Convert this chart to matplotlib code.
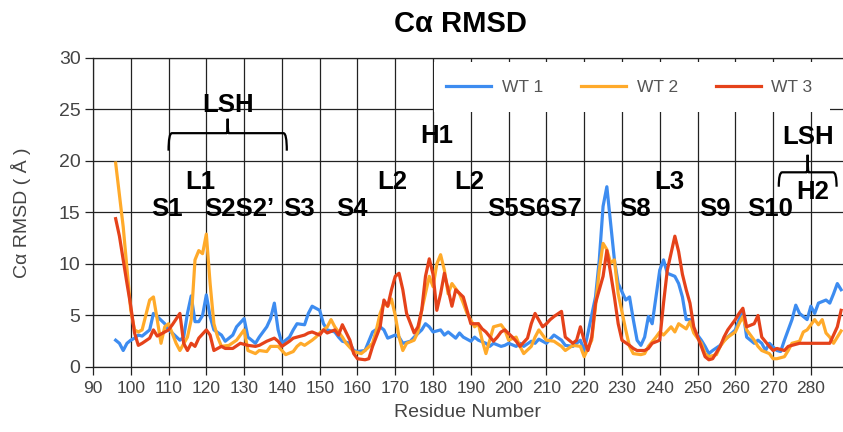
import matplotlib
matplotlib.use("Agg")
import matplotlib.pyplot as plt
from matplotlib.patches import Rectangle
from matplotlib.path import Path
from matplotlib.patches import PathPatch

plt.rcParams["font.family"] = ["Liberation Sans", "DejaVu Sans"]

# residue numbers / Ca RMSD (A)
wt1_res = [96, 97, 98, 99, 100, 101, 102, 103, 105, 106,
           107, 109, 110, 111, 113, 114, 115, 116, 117, 118,
           119, 120, 121, 122, 124, 125, 127, 128, 130, 131,
           133, 134, 136, 137, 138, 139, 140, 142, 143, 144,
           146, 147, 148, 150, 151, 152, 154, 155, 156, 158,
           159, 160, 162, 163, 164, 166, 167, 168, 170, 171,
           172, 174, 175, 177, 178, 179, 180, 182, 183, 184,
           186, 187, 188, 190, 191, 192, 194, 195, 196, 198,
           199, 200, 202, 203, 204, 206, 207, 208, 210, 212,
           214, 215, 217, 219, 220, 221, 223, 224, 225, 226,
           227, 228, 229, 231, 232, 233, 234, 235, 236, 237,
           238, 239, 240, 241, 242, 244, 245, 246, 247, 248,
           249, 251, 252, 253, 254, 256, 257, 258, 260, 261,
           262, 263, 265, 266, 267, 268, 269, 271, 272, 273,
           275, 276, 277, 279, 280, 281, 282, 284, 285, 286,
           287, 288]
wt1_rmsd = [2.6, 2.3, 1.6, 2.3, 2.6, 2.8, 3.1, 3.0, 3.6, 5.2,
            4.9, 4.2, 3.6, 3.3, 2.6, 2.9, 5.2, 6.9, 4.4, 4.4,
            5.0, 7.0, 4.9, 3.6, 3.1, 2.5, 3.1, 3.9, 4.7, 2.9,
            2.3, 2.9, 3.9, 4.7, 6.2, 3.6, 2.3, 2.9, 3.6, 4.2,
            4.1, 5.2, 5.9, 5.5, 4.2, 3.6, 3.4, 2.9, 2.5, 2.3,
            1.6, 1.5, 1.6, 2.5, 3.4, 3.9, 3.6, 2.8, 3.1, 2.9,
            2.3, 2.5, 2.9, 3.6, 4.2, 3.9, 3.4, 3.6, 3.1, 3.4,
            2.8, 3.3, 2.9, 2.5, 2.9, 2.6, 2.3, 2.0, 2.3, 2.0,
            2.1, 2.3, 2.0, 2.3, 2.0, 2.5, 2.3, 2.7, 2.3, 3.1,
            2.6, 2.1, 2.0, 2.6, 1.6, 3.3, 6.8, 10.4, 15.6, 17.5,
            14.0, 10.4, 8.1, 6.5, 6.8, 4.6, 2.6, 2.1, 2.9, 4.9,
            4.2, 6.8, 9.4, 10.4, 9.1, 8.8, 8.1, 6.8, 4.6, 4.6,
            3.6, 2.6, 2.0, 1.3, 1.6, 2.1, 2.6, 2.9, 3.6, 4.6,
            5.5, 2.9, 2.3, 2.6, 2.3, 1.6, 2.3, 1.6, 1.5, 2.6,
            4.6, 6.0, 5.2, 4.6, 5.9, 5.2, 6.2, 6.5, 6.2, 7.1,
            8.1, 7.5]

wt2_res = [96, 98, 100, 101, 102, 103, 105, 106, 107, 108,
           109, 110, 112, 113, 115, 116, 117, 118, 119, 120,
           121, 122, 123, 124, 126, 128, 130, 131, 133, 134,
           136, 137, 139, 140, 141, 143, 144, 145, 146, 148,
           149, 150, 152, 153, 154, 156, 157, 159, 161, 162,
           164, 165, 166, 167, 168, 169, 170, 171, 172, 173,
           175, 176, 177, 179, 180, 181, 182, 183, 184, 185,
           187, 188, 189, 191, 192, 193, 194, 195, 196, 198,
           199, 200, 202, 203, 204, 206, 207, 208, 210, 212,
           214, 215, 217, 219, 220, 222, 223, 224, 225, 226,
           227, 228, 229, 231, 232, 233, 235, 236, 237, 239,
           240, 241, 243, 244, 245, 247, 248, 249, 251, 252,
           253, 255, 256, 257, 258, 260, 261, 262, 263, 265,
           266, 267, 269, 270, 271, 273, 274, 275, 277, 278,
           279, 281, 282, 283, 284, 285, 286, 288]
wt2_rmsd = [19.8, 13.6, 5.5, 3.6, 3.4, 3.6, 6.5, 6.8, 4.6, 2.3,
            3.9, 4.2, 2.3, 1.6, 2.9, 4.6, 10.4, 11.3, 11.0, 12.9,
            8.1, 4.2, 2.9, 2.0, 2.1, 2.6, 3.6, 1.6, 1.3, 1.6,
            1.5, 2.0, 2.0, 1.6, 1.2, 1.5, 2.0, 2.3, 2.1, 2.6,
            2.9, 3.3, 3.9, 4.6, 3.9, 2.9, 2.3, 1.5, 1.3, 1.6,
            2.3, 3.6, 5.2, 6.2, 5.9, 6.6, 5.0, 2.9, 1.6, 2.3,
            2.6, 3.4, 5.5, 8.8, 7.8, 10.0, 10.9, 9.4, 7.1, 8.1,
            7.1, 6.2, 5.2, 3.9, 4.2, 2.6, 1.3, 2.6, 3.9, 4.1,
            3.6, 2.6, 2.9, 2.0, 1.3, 2.0, 2.9, 3.6, 2.6, 2.5,
            2.0, 1.6, 2.1, 2.0, 1.0, 2.6, 5.9, 9.4, 12.0, 11.4,
            10.1, 10.4, 7.1, 3.6, 2.0, 1.3, 1.2, 1.3, 2.0, 2.9,
            3.4, 3.1, 3.9, 3.4, 4.2, 3.7, 4.4, 3.3, 2.3, 1.3,
            1.0, 1.2, 2.0, 2.5, 2.9, 3.4, 4.2, 4.9, 3.6, 2.6,
            2.0, 1.6, 1.3, 0.8, 0.8, 1.0, 1.6, 2.3, 2.5, 3.4,
            3.6, 4.6, 4.1, 4.6, 3.3, 2.9, 2.3, 3.5]

wt3_res = [96, 97, 98, 99, 100, 101, 102, 103, 105, 106,
           107, 109, 110, 111, 113, 114, 115, 116, 117, 118,
           120, 121, 122, 124, 125, 127, 129, 131, 133, 134,
           136, 138, 139, 140, 142, 143, 144, 146, 147, 148,
           150, 151, 152, 154, 155, 156, 158, 159, 160, 162,
           163, 164, 166, 167, 168, 169, 170, 171, 172, 173,
           175, 176, 177, 178, 179, 180, 181, 182, 183, 184,
           185, 186, 188, 189, 190, 192, 193, 194, 196, 197,
           198, 199, 201, 202, 203, 205, 206, 207, 209, 210,
           211, 212, 214, 215, 217, 218, 219, 220, 221, 222,
           223, 225, 226, 227, 228, 229, 230, 232, 233, 234,
           236, 237, 238, 240, 241, 242, 244, 245, 246, 247,
           248, 249, 251, 252, 253, 254, 256, 257, 258, 260,
           261, 262, 263, 265, 266, 267, 269, 270, 271, 273,
           274, 275, 277, 278, 280, 282, 284, 285, 287, 288]
wt3_rmsd = [14.4, 12.7, 10.4, 8.1, 5.9, 3.3, 2.1, 2.3, 2.8, 3.6,
            3.0, 3.4, 3.6, 4.1, 5.2, 2.3, 1.6, 2.3, 2.0, 2.8,
            3.6, 3.1, 1.6, 2.0, 1.8, 1.8, 2.3, 2.1, 2.0, 2.1,
            2.5, 2.8, 2.5, 2.0, 2.5, 2.8, 2.9, 3.1, 3.3, 3.4,
            3.1, 3.6, 3.3, 3.6, 3.1, 4.1, 2.6, 1.3, 0.8, 0.7,
            0.8, 2.0, 3.9, 6.5, 5.9, 7.5, 8.8, 9.1, 7.5, 5.2,
            3.3, 3.9, 5.5, 8.8, 10.5, 9.0, 5.5, 7.1, 9.1, 7.5,
            5.9, 7.5, 6.8, 5.5, 4.2, 4.2, 3.7, 3.4, 2.5, 2.9,
            3.4, 3.6, 2.9, 2.5, 2.0, 2.8, 4.2, 5.2, 3.9, 4.2,
            4.6, 4.9, 5.4, 2.9, 2.3, 2.6, 3.9, 2.6, 1.6, 2.9,
            6.2, 8.8, 11.3, 9.1, 6.8, 4.2, 2.6, 2.1, 1.8, 1.6,
            1.6, 1.8, 2.3, 2.6, 6.2, 9.4, 12.7, 11.2, 9.0, 7.5,
            6.2, 3.9, 2.0, 1.0, 0.7, 0.8, 2.0, 2.9, 3.6, 4.6,
            5.2, 5.7, 3.9, 4.2, 5.0, 2.9, 2.0, 1.6, 1.8, 1.6,
            2.0, 2.1, 2.3, 2.3, 2.3, 2.3, 2.3, 2.3, 3.9, 5.5]

series_labels = ["WT 1", "WT 2", "WT 3"]
series_colors = ["#3d8cf0", "#ffaa2a", "#e5421a"]

# secondary-structure labels: (text, residue, rmsd)
ss_labels = [
    ("LSH", 125.7, 25.4), ("L1", 118.3, 18.0), ("S1", 109.6, 15.3),
    ("S2S2\u2019", 128.6, 15.3), ("S3", 144.5, 15.3), ("S4", 158.5, 15.3),
    ("L2", 169.1, 18.0), ("H1", 181.0, 22.4), ("L2", 189.7, 18.0),
    ("S5S6S7", 206.9, 15.3), ("S8", 233.4, 15.3), ("L3", 242.6, 18.0),
    ("S9", 254.5, 15.3), ("S10", 269.1, 15.3), ("LSH", 279.2, 22.3),
    ("H2", 280.6, 17.0),
]
# braces: (left, right, y of bar, y of ends, y of cusp)
braces = [(110.0, 141.3, 22.7, 21.0, 24.1), (271.5, 286.8, 18.9, 17.5, 20.6)]


def draw_brace(ax, x0, x1, yb, ye, yc):
    xm = (x0 + x1) / 2
    r = 0.9
    verts = [(x0, ye), (x0, yb), (x0 + r, yb), (xm - 0.3, yb), (xm, yb), (xm, yc),
             (xm, yb), (xm + 0.3, yb), (x1 - r, yb), (x1, yb), (x1, ye)]
    codes = [Path.MOVETO, Path.CURVE3, Path.CURVE3, Path.LINETO, Path.CURVE3, Path.CURVE3,
             Path.CURVE3, Path.CURVE3, Path.LINETO, Path.CURVE3, Path.CURVE3]
    ax.add_patch(PathPatch(Path(verts, codes), fill=False, color="black",
                           lw=1.6, zorder=4, clip_on=False))


fig = plt.figure(figsize=(8.43, 4.32), dpi=100)
ax = fig.add_axes([0.1103, 0.1505, 0.8897, 0.7153])

for res, vals, lab, col in zip([wt1_res, wt2_res, wt3_res],
                               [wt1_rmsd, wt2_rmsd, wt3_rmsd],
                               series_labels, series_colors):
    ax.plot(res, vals, color=col, lw=2.3, label=lab, zorder=3)

ax.set_xlim(90, 288.5)
ax.set_ylim(0, 30)
ax.set_xticks(range(90, 290, 10))
ax.set_yticks(range(0, 31, 5))
ax.grid(True, color="#222222", lw=0.9)
ax.set_axisbelow(True)
ax.spines["right"].set_visible(False)
for s in ["left", "bottom", "top"]:
    ax.spines[s].set_color("#222222")
    ax.spines[s].set_linewidth(0.9)
ax.tick_params(axis="both", direction="out", length=6, width=0.9, color="#222222",
               labelcolor="#444444")
ax.tick_params(axis="y", labelsize=14, pad=3)
ax.tick_params(axis="x", labelsize=12.5, pad=4)

# white box behind the legend hides the grid there
ax.add_patch(Rectangle((0.455, 0.825), 0.528, 0.162, transform=ax.transAxes,
                       facecolor="white", edgecolor="none", zorder=1))
ax.legend(loc="center", bbox_to_anchor=(0.715, 0.905), ncol=3, frameon=False,
          fontsize=12.5, handlelength=2.6, columnspacing=2.2, handletextpad=0.6,
          labelcolor="#555555")

for txt, x, y in ss_labels:
    ax.text(x, y, txt, ha="center", va="center", fontsize=18.5, fontweight="bold",
            zorder=5)
for b in braces:
    draw_brace(ax, *b)

ax.set_title("C\u03b1 RMSD", fontsize=21, fontweight="bold", pad=19, x=0.49)
ax.set_xlabel("Residue Number", fontsize=14, color="#444444", labelpad=6)
ax.set_ylabel("C\u03b1 RMSD ( \u00c5 )", fontsize=14, color="#444444", labelpad=20)

fig.savefig("out.png", dpi=100)
